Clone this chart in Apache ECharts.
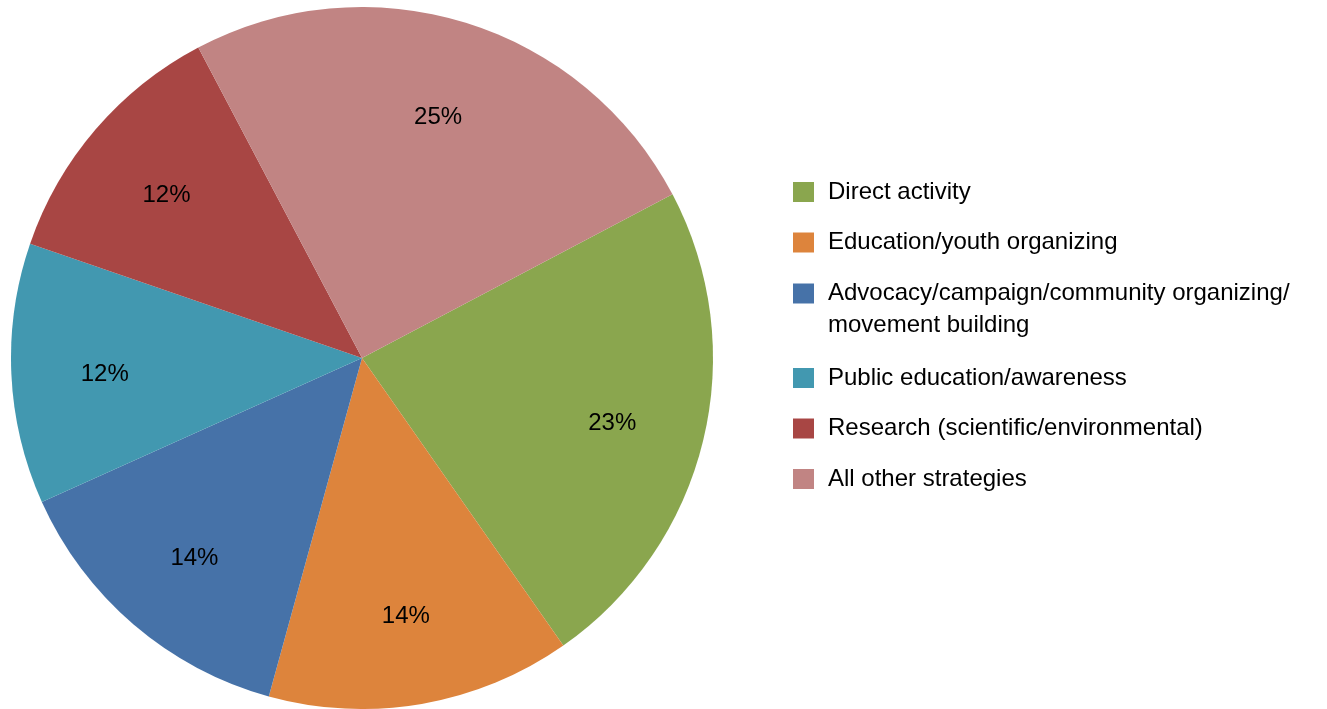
<!DOCTYPE html>
<html>
<head>
<meta charset="utf-8">
<script src="https://cdn.jsdelivr.net/npm/echarts@6/dist/echarts.min.js"></script>
<style>
  html, body { margin: 0; padding: 0; background: #ffffff; }
  #chart { width: 1327px; height: 709px; }
</style>
</head>
<body>
<div id="chart"></div>
<script>
// Share of work by strategy (percent)
const categories = [
  'Direct activity',
  'Education/youth organizing',
  'Advocacy/campaign/community organizing/ movement building',
  'Public education/awareness',
  'Research (scientific/environmental)',
  'All other strategies'
];
const shares = [23, 14, 14, 12, 12, 25];
const sliceColors = ['#8aa64e', '#dd843c', '#4672a8', '#4298b0', '#a84644', '#c18483'];

const FONT = 'Liberation Sans';
const CENTER = [362, 358];
const RADIUS = 351;

const pieData = categories.map((name, i) => ({
  name: name,
  value: shares[i],
  itemStyle: { color: sliceColors[i] }
}));

const labelData = categories.map((name, i) => ({ name: name, value: shares[i] }));

const legendText = {
  fontFamily: FONT,
  fontSize: 24,
  color: '#000000',
  lineHeight: 32,
  padding: [0, 0, 0, 9]
};

function legendBlock(names, top, formatter) {
  return {
    orient: 'vertical',
    left: 793,
    top: top,
    padding: 0,
    itemWidth: 21,
    itemHeight: 20,
    itemGap: 18.5,
    icon: 'rect',
    selectedMode: false,
    data: names,
    textStyle: legendText,
    formatter: formatter || (name => name)
  };
}

const chart = echarts.init(document.getElementById('chart'), null, { renderer: 'canvas' });

chart.setOption({
  animation: false,
  backgroundColor: '#ffffff',
  legend: [
    legendBlock(categories.slice(0, 2), 176),
    // wrapped entry: a leading blank line keeps the first line level with the swatch
    legendBlock(categories.slice(2, 3), 293.5 - 48, name => '\n' + name.replace('/ ', '/\n')),
    legendBlock(categories.slice(3), 362)
  ],
  series: [
    {
      type: 'pie',
      center: CENTER,
      radius: [0, RADIUS],
      startAngle: 27.8,
      clockwise: true,
      silent: true,
      label: { show: false },
      labelLine: { show: false },
      itemStyle: { borderWidth: 0 },
      emphasis: { disabled: true },
      data: pieData
    },
    {
      // transparent ring used to place the percentage labels further out
      type: 'pie',
      center: CENTER,
      radius: [0, RADIUS * 1.45],
      startAngle: 27.8,
      clockwise: true,
      silent: true,
      minShowLabelAngle: 0,
      itemStyle: { color: 'rgba(0,0,0,0)', borderWidth: 0 },
      emphasis: { disabled: true },
      label: {
        show: true,
        position: 'inside',
        offset: [0, 5],
        formatter: p => p.value + '%',
        fontFamily: FONT,
        fontSize: 24,
        color: '#000000'
      },
      labelLine: { show: false },
      data: labelData
    }
  ]
});
</script>
</body>
</html>
